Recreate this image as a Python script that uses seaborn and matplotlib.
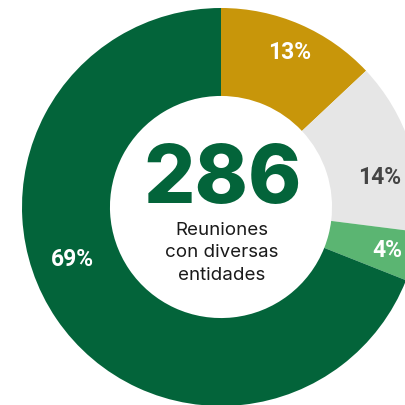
import numpy as np
import matplotlib
matplotlib.use("Agg")
import matplotlib.pyplot as plt
import seaborn as sns

# ---- data ----
categories = ["A", "B", "C", "D"]
values = [13, 14, 4, 69]
pct_labels = ["13%", "14%", "4%", "69%"]
total_label = "286"
center_caption = "Reuniones\ncon diversas\nentidades"

# ---- style ----
colors = ["#C8960A", "#E6E6E6", "#5BB572", "#03643A"]
label_colors = ["white", "#444444", "white", "white"]
angle_offsets = [0.5, 7.0, 0.0, 15.0]   # degrees, shift of label from slice mid-angle
label_radii = [0.857, 0.814, 0.864, 0.79]

sns.set_theme(style="white")
plt.rcParams["font.family"] = ["Inter", "DejaVu Sans"]

fig = plt.figure(figsize=(4.06, 4.06), dpi=100)
ax = fig.add_axes([0, 0, 1, 1])
ax.pie(values, colors=colors, startangle=90, counterclock=False, radius=1.0,
       wedgeprops=dict(width=0.442, linewidth=0))

# labels
cum = np.cumsum([0] + values[:-1])
for i, v in enumerate(values):
    mid = (cum[i] + v / 2) / sum(values) * 360 + angle_offsets[i]
    th = np.deg2rad(mid)
    x = label_radii[i] * np.sin(th)
    y = label_radii[i] * np.cos(th)
    ax.text(x, y, pct_labels[i], ha="center", va="center", fontsize=16.5,
            fontweight="bold", color=label_colors[i], family=["Roboto", "DejaVu Sans"])

ax.text(0.01, 0.027, total_label, ha="center", va="baseline", fontsize=58,
        fontweight=800, color="#03643A")
ax.text(0.005, -0.226, center_caption, ha="center", va="center", fontsize=13.5,
        color="#1a1a1a", linespacing=1.4)

ax.set_xlim(-221 / 199, 185 / 199)
ax.set_ylim(-198 / 199, 208 / 199)
ax.set_aspect("equal")
ax.axis("off")
fig.savefig("out.png", dpi=100)
